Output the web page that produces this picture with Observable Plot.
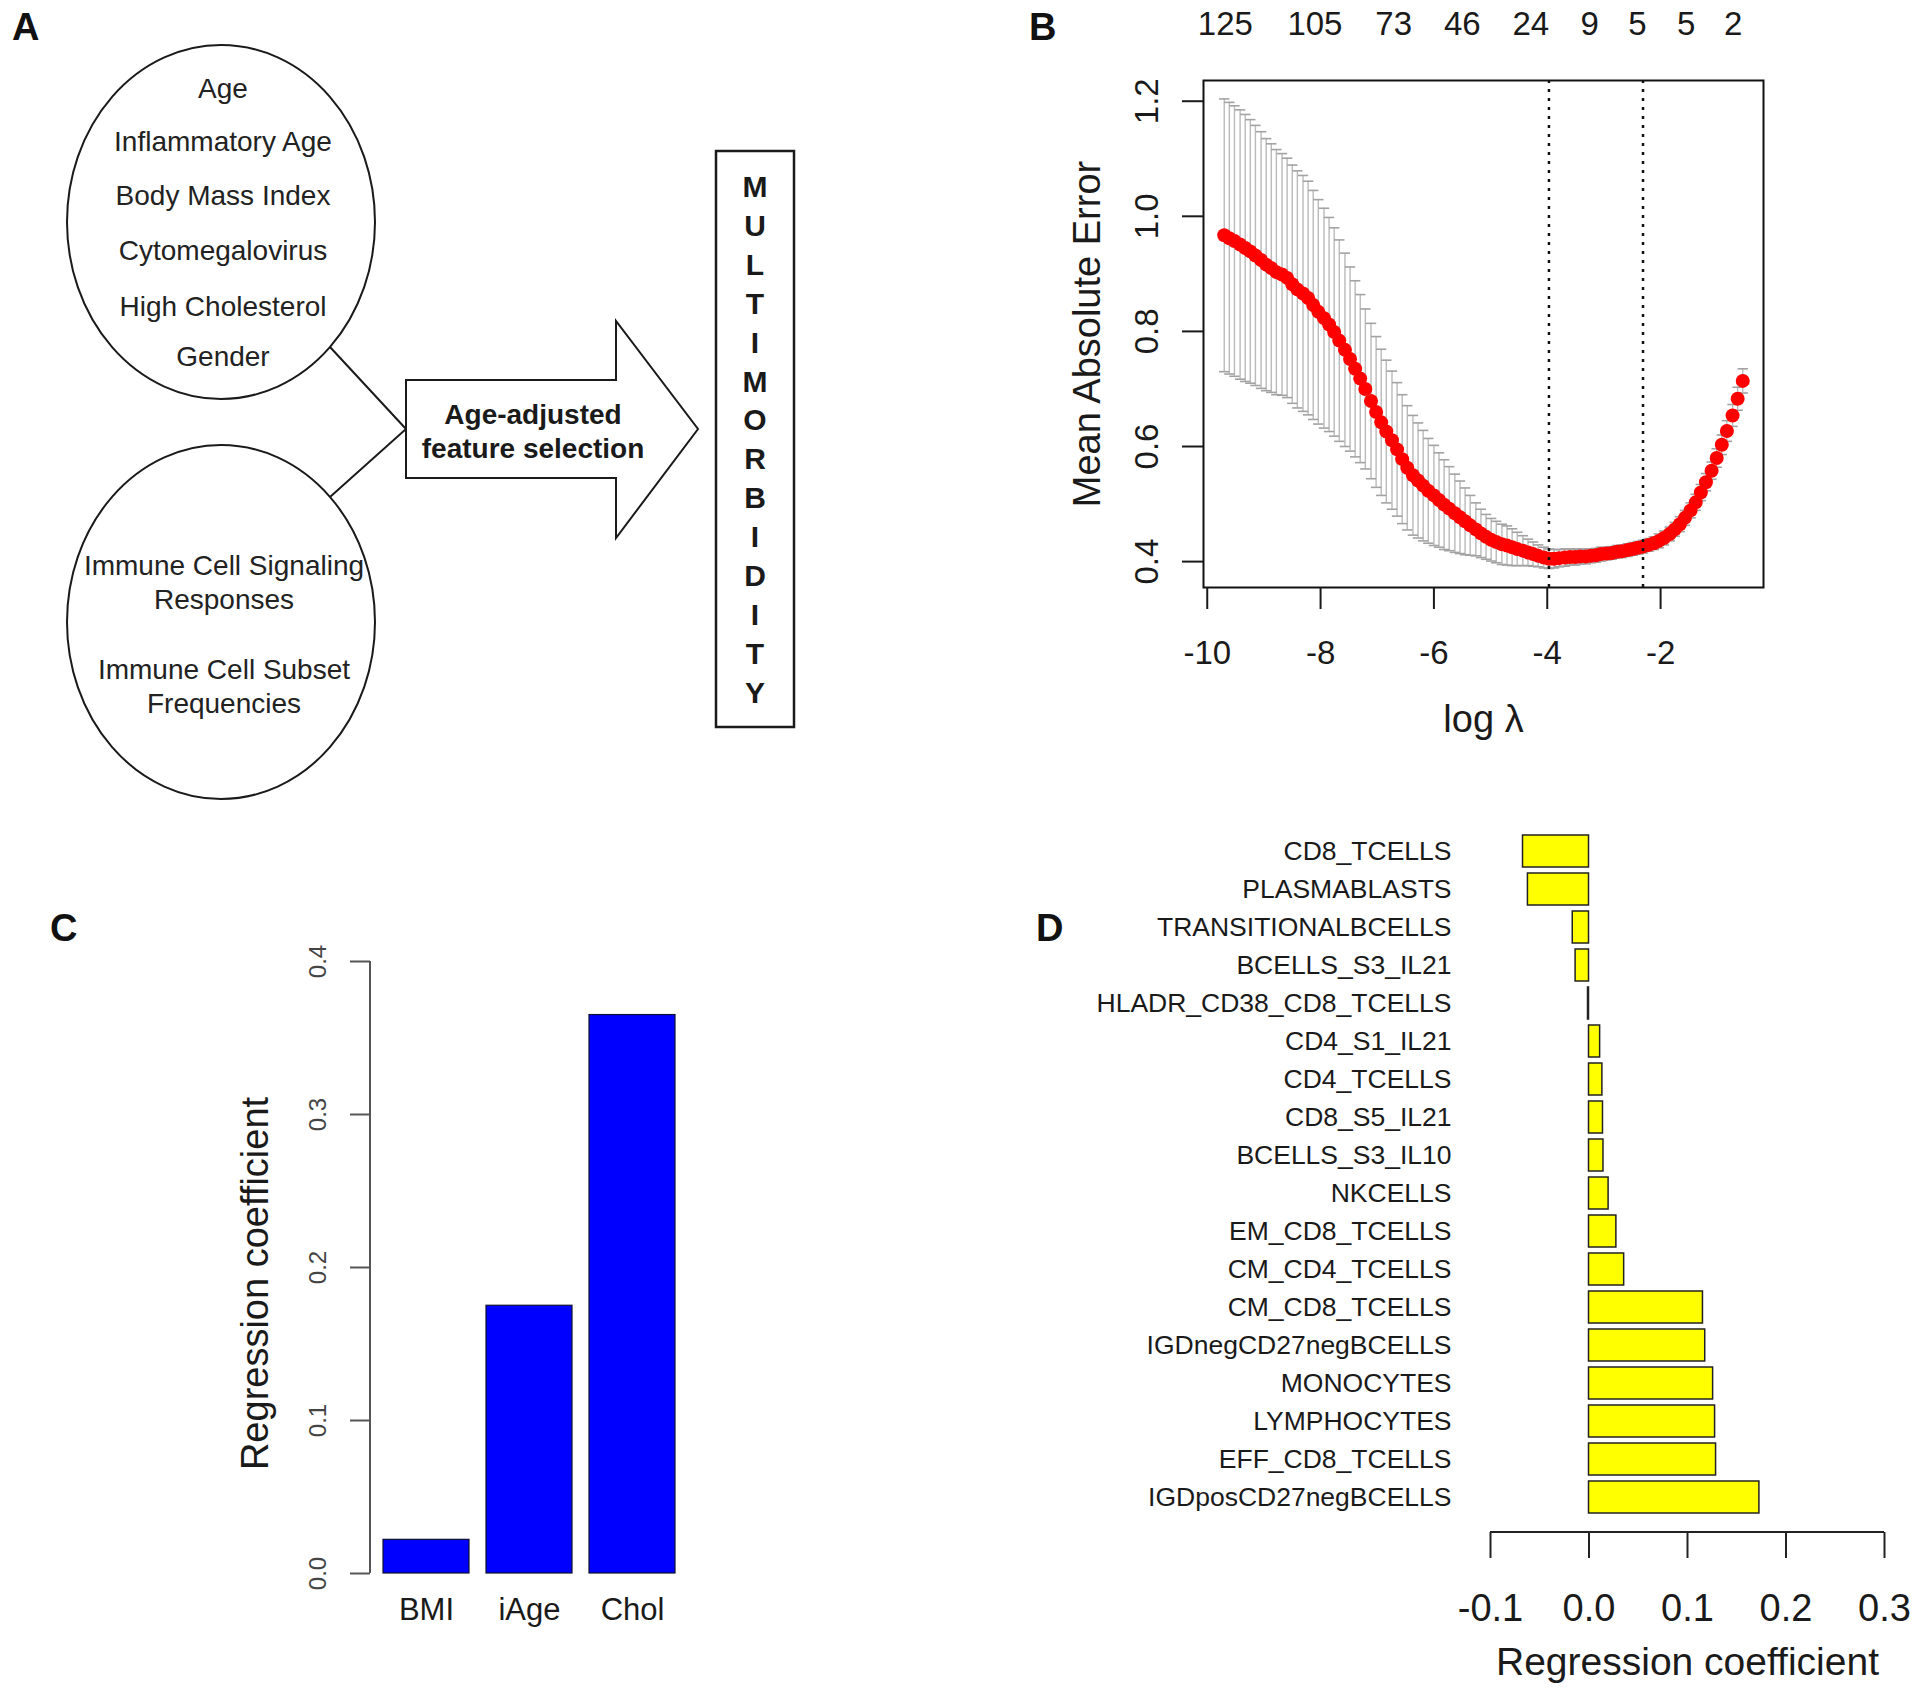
<!DOCTYPE html>
<html>
<head>
<meta charset="utf-8">
<script src="https://cdn.jsdelivr.net/npm/d3@7"></script>
<script src="https://cdn.jsdelivr.net/npm/@observablehq/plot@0.6"></script>
<style>
  html, body { margin: 0; padding: 0; background: #fff; }
  #page { position: relative; width: 1920px; height: 1691px; background: #fff; overflow: hidden;
          font-family: "Liberation Sans", Arial, Helvetica, sans-serif; color: #1a1a1a; }
  .panel { position: absolute; }
  #overlay { position: absolute; left: 0; top: 0; pointer-events: none; }
</style>
</head>
<body>
<div id="page">
  <div id="panelB" class="panel" style="left:1030px; top:0px;"></div>
  <div id="panelC" class="panel" style="left:150px; top:880px;"></div>
  <div id="panelD" class="panel" style="left:1040px; top:790px;"></div>
  <svg id="overlay" width="1920" height="1691"></svg>
</div>
<script>
// ---------------- DATA ----------------
// Panel A (schematic)
const factorsTop = ["Age", "Inflammatory Age", "Body Mass Index", "Cytomegalovirus", "High Cholesterol", "Gender"];
const factorsBottom = [["Immune Cell Signaling", "Responses"], ["Immune Cell Subset", "Frequencies"]];
const arrowText = ["Age-adjusted", "feature selection"];
const outcomeWord = "MULTIMORBIDITY";

// Panel B: cross-validation curve (log lambda, mean absolute error, sd)
const cvLogLambda = [
  -9.70, -9.61, -9.52, -9.42, -9.33, -9.24, -9.15, -9.05, -8.96, -8.87,
  -8.78, -8.68, -8.59, -8.50, -8.41, -8.31, -8.22, -8.13, -8.04, -7.94,
  -7.85, -7.76, -7.67, -7.57, -7.48, -7.39, -7.30, -7.21, -7.11, -7.02,
  -6.93, -6.84, -6.74, -6.65, -6.56, -6.47, -6.37, -6.28, -6.19, -6.10,
  -6.00, -5.91, -5.82, -5.73, -5.63, -5.54, -5.45, -5.36, -5.26, -5.17,
  -5.08, -4.99, -4.90, -4.80, -4.71, -4.62, -4.53, -4.43, -4.34, -4.25,
  -4.16, -4.06, -3.97, -3.88, -3.79, -3.69, -3.60, -3.51, -3.42, -3.32,
  -3.23, -3.14, -3.05, -2.95, -2.86, -2.77, -2.68, -2.58, -2.49, -2.40,
  -2.31, -2.21, -2.12, -2.03, -1.94, -1.84, -1.75, -1.66, -1.57, -1.47,
  -1.38, -1.29, -1.20, -1.10, -1.01, -0.92, -0.83, -0.73, -0.64, -0.55
];
const cvMean = [
  0.967, 0.962, 0.957, 0.951, 0.945, 0.939, 0.932, 0.924, 0.916, 0.910,
  0.903, 0.899, 0.893, 0.882, 0.873, 0.866, 0.858, 0.846, 0.834, 0.823,
  0.812, 0.799, 0.784, 0.768, 0.752, 0.735, 0.718, 0.700, 0.679, 0.660,
  0.642, 0.626, 0.611, 0.595, 0.578, 0.563, 0.550, 0.541, 0.532, 0.523,
  0.515, 0.507, 0.499, 0.492, 0.484, 0.477, 0.470, 0.463, 0.456, 0.449,
  0.443, 0.438, 0.434, 0.430, 0.428, 0.425, 0.422, 0.419, 0.416, 0.413,
  0.410, 0.407, 0.405, 0.405, 0.406, 0.407, 0.408, 0.408, 0.409, 0.409,
  0.410, 0.411, 0.413, 0.414, 0.415, 0.417, 0.418, 0.420, 0.422, 0.424,
  0.426, 0.429, 0.432, 0.436, 0.441, 0.448, 0.456, 0.465, 0.476, 0.489,
  0.503, 0.520, 0.538, 0.558, 0.580, 0.603, 0.627, 0.654, 0.683, 0.714
];
const cvSd = [
  0.237, 0.236, 0.235, 0.234, 0.232, 0.229, 0.226, 0.223, 0.219, 0.216,
  0.213, 0.210, 0.208, 0.207, 0.206, 0.205, 0.203, 0.199, 0.195, 0.191,
  0.186, 0.181, 0.175, 0.168, 0.160, 0.153, 0.146, 0.139, 0.135, 0.131,
  0.127, 0.124, 0.120, 0.116, 0.112, 0.108, 0.104, 0.100, 0.096, 0.091,
  0.087, 0.082, 0.078, 0.073, 0.068, 0.063, 0.058, 0.052, 0.046, 0.042,
  0.039, 0.037, 0.036, 0.035, 0.034, 0.032, 0.029, 0.026, 0.023, 0.021,
  0.019, 0.018, 0.017, 0.016, 0.015, 0.015, 0.014, 0.014, 0.013, 0.013,
  0.012, 0.012, 0.012, 0.011, 0.011, 0.011, 0.011, 0.011, 0.011, 0.011,
  0.011, 0.011, 0.011, 0.012, 0.012, 0.012, 0.012, 0.013, 0.013, 0.013,
  0.014, 0.014, 0.015, 0.015, 0.016, 0.017, 0.018, 0.019, 0.020, 0.021
];
const cvSelected = [-3.97, -2.31];            // lambda.min, lambda.1se
const nzLogLambda = [-9.68, -8.10, -6.71, -5.50, -4.29, -3.25, -2.41, -1.55, -0.72];
const nzCount = ["125", "105", "73", "46", "24", "9", "5", "5", "2"];
const bTicksX = [-10, -8, -6, -4, -2];
const bTicksY = [0.4, 0.6, 0.8, 1.0, 1.2];

// Panel C
const cNames = ["BMI", "iAge", "Chol"];
const cValues = [0.022, 0.175, 0.365];
const cTicks = [0, 0.1, 0.2, 0.3, 0.4];

// Panel D
const dNames = [
  "CD8_TCELLS", "PLASMABLASTS", "TRANSITIONALBCELLS", "BCELLS_S3_IL21", "HLADR_CD38_CD8_TCELLS",
  "CD4_S1_IL21", "CD4_TCELLS", "CD8_S5_IL21", "BCELLS_S3_IL10", "NKCELLS", "EM_CD8_TCELLS",
  "CM_CD4_TCELLS", "CM_CD8_TCELLS", "IGDnegCD27negBCELLS", "MONOCYTES", "LYMPHOCYTES",
  "EFF_CD8_TCELLS", "IGDposCD27negBCELLS"
];
const dValues = [
  -0.067, -0.062, -0.0165, -0.0136, -0.001,
  0.0113, 0.0136, 0.0142, 0.0147, 0.0199, 0.0278,
  0.0357, 0.1157, 0.118, 0.126, 0.128,
  0.129, 0.173
];
const dTicks = [-0.1, 0, 0.1, 0.2, 0.3];

// ---------------- TABLES ----------------
const cvData = cvLogLambda.map((x, i) => ({x, m: cvMean[i], s: cvSd[i]}));
const nzData = nzLogLambda.map((x, i) => ({x, n: nzCount[i]}));
const cData = cNames.map((name, i) => ({name, value: cValues[i]}));
const dData = dNames.map((name, i) => ({name, value: dValues[i]}));

const FONT = "Liberation Sans, Arial, Helvetica, sans-serif";
const INK = "#1a1a1a";
const capW = 0.0915;

// ---------------- PANEL B ----------------
const plotB = Plot.plot({
  width: 780, height: 760,
  marginLeft: 173, marginRight: 47, marginTop: 80, marginBottom: 173,
  style: {fontFamily: FONT, color: INK, background: "transparent"},
  x: {domain: [-10.066, -0.184]},
  y: {domain: [0.355, 1.236]},
  marks: [
    Plot.ruleX(cvData, {x: "x", y1: d => d.m - d.s, y2: d => d.m + d.s, stroke: "#bababa", strokeWidth: 1.4}),
    Plot.link(cvData, {x1: d => d.x - capW, x2: d => d.x + capW, y1: d => d.m + d.s, y2: d => d.m + d.s, stroke: "#a3a3a3", strokeWidth: 1.6}),
    Plot.link(cvData, {x1: d => d.x - capW, x2: d => d.x + capW, y1: d => d.m - d.s, y2: d => d.m - d.s, stroke: "#a3a3a3", strokeWidth: 1.6}),
    Plot.dot(cvData, {x: "x", y: "m", r: 7, fill: "#ff0000"}),
    Plot.ruleX(cvSelected, {stroke: "#111", strokeWidth: 2.5, strokeDasharray: "3,6"}),
    Plot.frame({stroke: "#111", strokeWidth: 2}),
    Plot.axisX({ticks: bTicksX, tickSize: 22, tickPadding: 31, tickFormat: d => String(d), fontSize: 33, strokeWidth: 2, label: null}),
    Plot.axisY({ticks: bTicksY, tickSize: 21, tickPadding: 25, tickRotate: -90, tickFormat: d => d.toFixed(1), fontSize: 33, strokeWidth: 2, label: null}),
    Plot.text(nzData, {x: "x", text: "n", frameAnchor: "top", lineAnchor: "middle", dy: -56, fontSize: 33, fill: INK}),
    Plot.text(["log λ"], {frameAnchor: "bottom", lineAnchor: "middle", textAnchor: "middle", dy: 132, text: d => d, fontSize: 38, fill: INK}),
    Plot.text(["Mean Absolute Error"], {frameAnchor: "left", textAnchor: "middle", lineAnchor: "middle", dx: -116, rotate: -90, text: d => d, fontSize: 38, fill: INK})
  ]
});
document.getElementById("panelB").appendChild(plotB);

// ---------------- PANEL C ----------------
const plotC = Plot.plot({
  width: 560, height: 790,
  marginLeft: 220, marginRight: 23, marginTop: 81, marginBottom: 97,
  style: {fontFamily: FONT, color: INK, background: "transparent"},
  x: {domain: cNames, paddingInner: 0.2 / 1.2, paddingOuter: 0, insetLeft: 12, insetRight: 12},
  y: {domain: [0, 0.4]},
  marks: [
    Plot.barY(cData, {x: "name", y: "value", fill: "#0000ff", stroke: "#101030", strokeWidth: 1.2}),
    Plot.axisY({ticks: cTicks, tickSize: 20, tickPadding: 25, tickRotate: -90, tickFormat: d => d.toFixed(1), fontSize: 24, stroke: "#555", fill: "#444", strokeWidth: 2, label: null}),
    Plot.axisX({tickSize: 0, tickPadding: 24, fontSize: 31, fill: INK, label: null}),
    Plot.text(["Regression coefficient"], {frameAnchor: "left", textAnchor: "middle", lineAnchor: "middle", dx: -115, dy: 16, rotate: -90, text: d => d, fontSize: 38, fill: INK})
  ]
});
{
  const sy = plotC.scale("y");
  d3.select(plotC).append("line")
    .attr("x1", 220).attr("x2", 220)
    .attr("y1", sy.apply(0)).attr("y2", sy.apply(0.4))
    .attr("stroke", "#555").attr("stroke-width", 2);
}
document.getElementById("panelC").appendChild(plotC);

// ---------------- PANEL D ----------------
const plotD = Plot.plot({
  width: 880, height: 900,
  marginLeft: 450, marginRight: 36, marginTop: 37, marginBottom: 158,
  style: {fontFamily: FONT, color: INK, background: "transparent"},
  x: {domain: [-0.1, 0.3]},
  y: {domain: dNames, paddingInner: 0.2 / 1.2, paddingOuter: 0, insetBottom: 12},
  marks: [
    Plot.barX(dData, {x: "value", y: "name", fill: "#ffff00", stroke: "#222", strokeWidth: 1.5}),
    Plot.axisY({tickSize: 0, tickPadding: 39, fontSize: 26.5, fill: INK, label: null}),
    Plot.axisX({ticks: dTicks, tickSize: 26, tickPadding: 36, tickFormat: d => d.toFixed(1), fontSize: 38, strokeWidth: 2, stroke: "#222", fill: INK, label: null}),
    Plot.text(["Regression coefficient"], {frameAnchor: "bottom", lineAnchor: "middle", textAnchor: "middle", dy: 130, text: d => d, fontSize: 39, fill: INK})
  ]
});
{
  const sx = plotD.scale("x");
  const yAxis = 900 - 158;
  d3.select(plotD).append("line")
    .attr("x1", sx.apply(-0.1)).attr("x2", sx.apply(0.3))
    .attr("y1", yAxis).attr("y2", yAxis)
    .attr("stroke", "#222").attr("stroke-width", 2);
}
document.getElementById("panelD").appendChild(plotD);

// ---------------- PANEL A (schematic) + panel letters ----------------
const ov = d3.select("#overlay").style("font-family", FONT);
const lineCol = "#1a1a1a";
// ellipses
ov.append("ellipse").attr("cx", 221).attr("cy", 222).attr("rx", 154).attr("ry", 177)
  .attr("fill", "none").attr("stroke", lineCol).attr("stroke-width", 2);
ov.append("ellipse").attr("cx", 221).attr("cy", 622).attr("rx", 154).attr("ry", 177)
  .attr("fill", "none").attr("stroke", lineCol).attr("stroke-width", 2);
// connectors
ov.append("polyline").attr("points", "330,347 406,429 330,497")
  .attr("fill", "none").attr("stroke", lineCol).attr("stroke-width", 2);
// block arrow
ov.append("polygon").attr("points", "406,380 616,380 616,321 698,429 616,538 616,478 406,478")
  .attr("fill", "#fff").attr("stroke", lineCol).attr("stroke-width", 2);
// outcome box
ov.append("rect").attr("x", 716).attr("y", 151).attr("width", 78).attr("height", 576)
  .attr("fill", "#fff").attr("stroke", lineCol).attr("stroke-width", 2.5);

const topY = [88, 141, 195, 250, 306, 356];
factorsTop.forEach((t, i) => {
  ov.append("text").attr("x", 223).attr("y", topY[i] + 10).attr("text-anchor", "middle")
    .attr("font-size", 28).attr("fill", "#222").text(t);
});
const botY = [[565, 599], [669, 703]];
factorsBottom.forEach((lines, j) => {
  lines.forEach((t, k) => {
    ov.append("text").attr("x", 224).attr("y", botY[j][k] + 10).attr("text-anchor", "middle")
      .attr("font-size", 28).attr("fill", "#222").text(t);
  });
});
const arrY = [414, 448];
arrowText.forEach((t, i) => {
  ov.append("text").attr("x", 533).attr("y", arrY[i] + 10).attr("text-anchor", "middle")
    .attr("font-size", 28).attr("font-weight", "bold").attr("fill", "#1a1a1a").text(t);
});
outcomeWord.split("").forEach((ch, i) => {
  ov.append("text").attr("x", 755).attr("y", 186 + i * 38.9 + 11).attr("text-anchor", "middle")
    .attr("font-size", 30).attr("font-weight", "bold").attr("fill", "#1a1a1a").text(ch);
});

// panel letters
[["A", 12, 40], ["B", 1029, 40], ["C", 50, 941], ["D", 1036, 941]].forEach(([t, x, y]) => {
  ov.append("text").attr("x", x).attr("y", y).attr("font-size", 38).attr("font-weight", "bold")
    .attr("fill", "#111").text(t);
});
</script>
</body>
</html>
